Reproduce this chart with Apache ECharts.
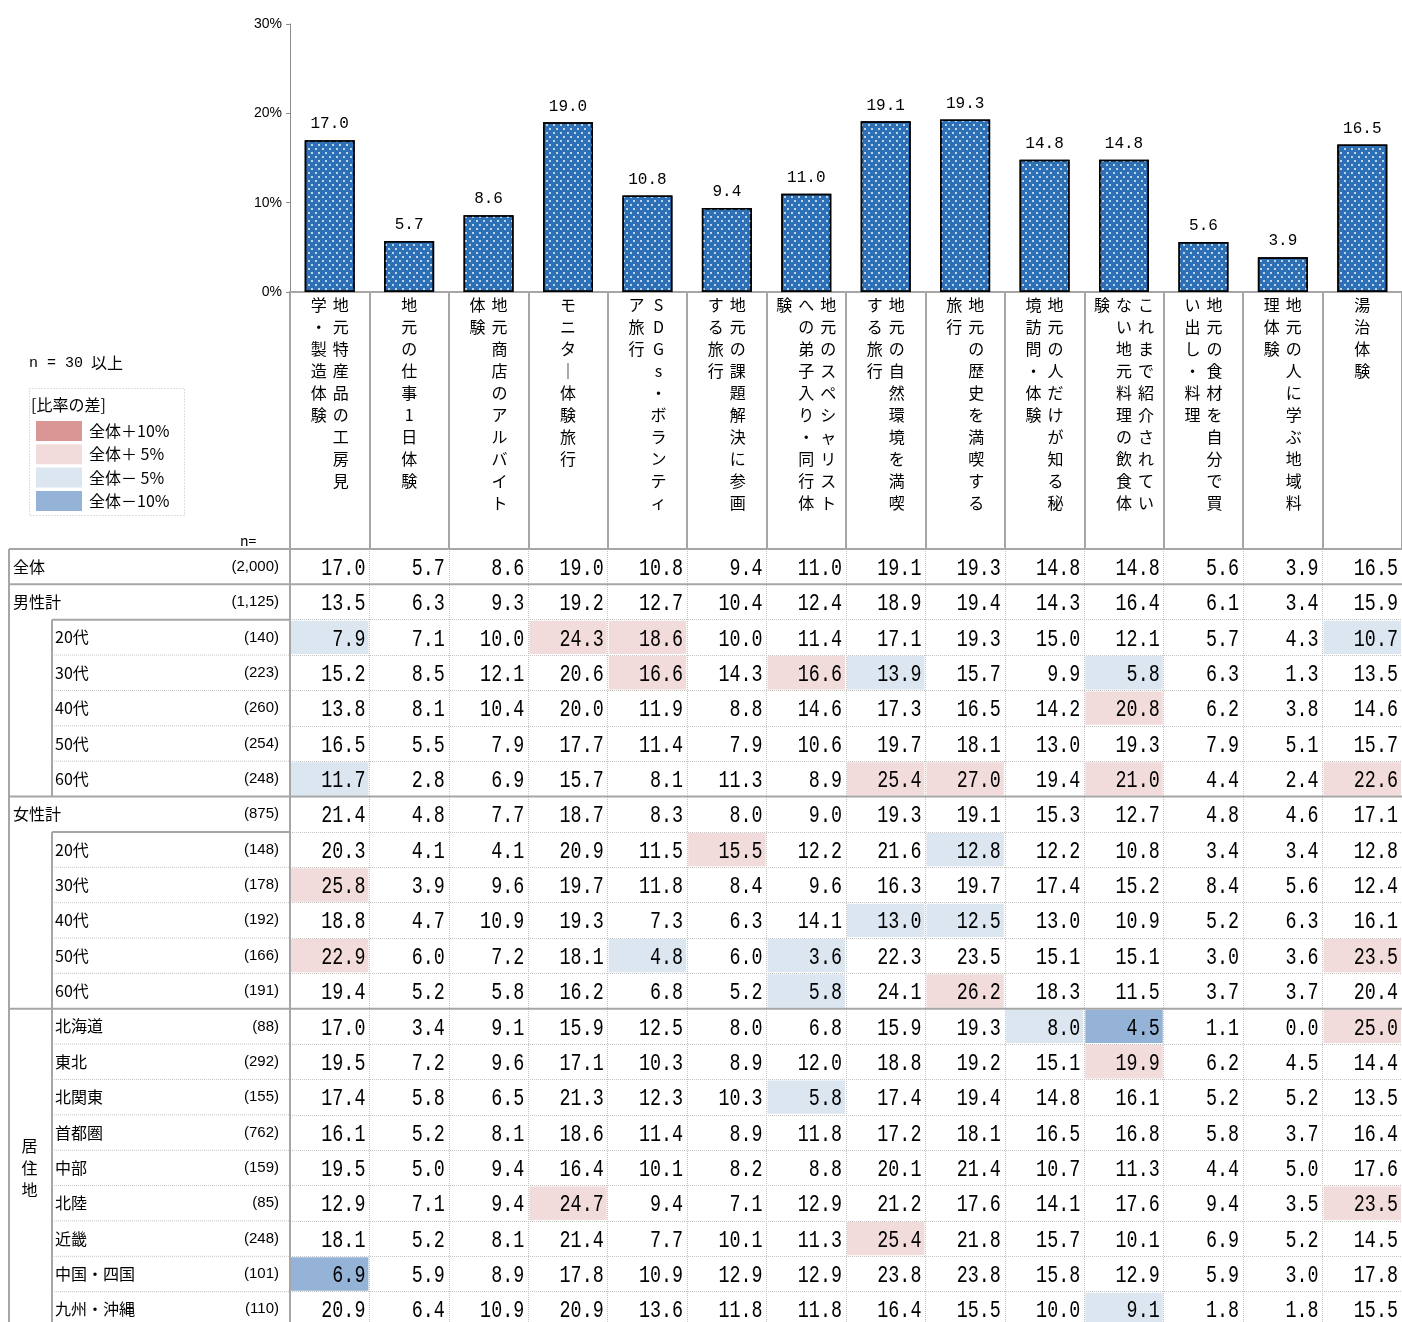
<!DOCTYPE html>
<html>
<head>
<meta charset="utf-8">
<title>体験型旅行の意向</title>
<script src="https://cdn.jsdelivr.net/npm/echarts@6/dist/echarts.min.js"></script>
<style>
  html, body { margin: 0; padding: 0; background: #fff; }
  #main { width: 1402px; height: 1322px; }
</style>
</head>
<body>
<div id="main"></div>
<script>
// ---- data ----------------------------------------------------------------
const categories = [
  '地元特産品の工房見学・製造体験',
  '地元の仕事1日体験',
  '地元商店のアルバイト体験',
  'モニター体験旅行',
  'SDGs・ボランティア旅行',
  '地元の課題解決に参画する旅行',
  '地元のスペシャリストへの弟子入り・同行体験',
  '地元の自然環境を満喫する旅行',
  '地元の歴史を満喫する旅行',
  '地元の人だけが知る秘境訪問・体験',
  'これまで紹介されていない地元料理の飲食体験',
  '地元の食材を自分で買い出し・料理',
  '地元の人に学ぶ地域料理体験',
  '湯治体験'
];

const yTickValues = [0, 10, 20, 30];

// 全体
const totalValues = [17.0, 5.7, 8.6, 19.0, 10.8, 9.4, 11.0, 19.1, 19.3, 14.8, 14.8, 5.6, 3.9, 16.5];

// 男性計, 20代, 30代, 40代, 50代, 60代
const maleValues = [
  [13.5, 6.3, 9.3, 19.2, 12.7, 10.4, 12.4, 18.9, 19.4, 14.3, 16.4, 6.1, 3.4, 15.9],
  [7.9, 7.1, 10.0, 24.3, 18.6, 10.0, 11.4, 17.1, 19.3, 15.0, 12.1, 5.7, 4.3, 10.7],
  [15.2, 8.5, 12.1, 20.6, 16.6, 14.3, 16.6, 13.9, 15.7, 9.9, 5.8, 6.3, 1.3, 13.5],
  [13.8, 8.1, 10.4, 20.0, 11.9, 8.8, 14.6, 17.3, 16.5, 14.2, 20.8, 6.2, 3.8, 14.6],
  [16.5, 5.5, 7.9, 17.7, 11.4, 7.9, 10.6, 19.7, 18.1, 13.0, 19.3, 7.9, 5.1, 15.7],
  [11.7, 2.8, 6.9, 15.7, 8.1, 11.3, 8.9, 25.4, 27.0, 19.4, 21.0, 4.4, 2.4, 22.6]
];

// 女性計, 20代, 30代, 40代, 50代, 60代
const femaleValues = [
  [21.4, 4.8, 7.7, 18.7, 8.3, 8.0, 9.0, 19.3, 19.1, 15.3, 12.7, 4.8, 4.6, 17.1],
  [20.3, 4.1, 4.1, 20.9, 11.5, 15.5, 12.2, 21.6, 12.8, 12.2, 10.8, 3.4, 3.4, 12.8],
  [25.8, 3.9, 9.6, 19.7, 11.8, 8.4, 9.6, 16.3, 19.7, 17.4, 15.2, 8.4, 5.6, 12.4],
  [18.8, 4.7, 10.9, 19.3, 7.3, 6.3, 14.1, 13.0, 12.5, 13.0, 10.9, 5.2, 6.3, 16.1],
  [22.9, 6.0, 7.2, 18.1, 4.8, 6.0, 3.6, 22.3, 23.5, 15.1, 15.1, 3.0, 3.6, 23.5],
  [19.4, 5.2, 5.8, 16.2, 6.8, 5.2, 5.8, 24.1, 26.2, 18.3, 11.5, 3.7, 3.7, 20.4]
];

// 居住地
const regionValues = [
  [17.0, 3.4, 9.1, 15.9, 12.5, 8.0, 6.8, 15.9, 19.3, 8.0, 4.5, 1.1, 0.0, 25.0],
  [19.5, 7.2, 9.6, 17.1, 10.3, 8.9, 12.0, 18.8, 19.2, 15.1, 19.9, 6.2, 4.5, 14.4],
  [17.4, 5.8, 6.5, 21.3, 12.3, 10.3, 5.8, 17.4, 19.4, 14.8, 16.1, 5.2, 5.2, 13.5],
  [16.1, 5.2, 8.1, 18.6, 11.4, 8.9, 11.8, 17.2, 18.1, 16.5, 16.8, 5.8, 3.7, 16.4],
  [19.5, 5.0, 9.4, 16.4, 10.1, 8.2, 8.8, 20.1, 21.4, 10.7, 11.3, 4.4, 5.0, 17.6],
  [12.9, 7.1, 9.4, 24.7, 9.4, 7.1, 12.9, 21.2, 17.6, 14.1, 17.6, 9.4, 3.5, 23.5],
  [18.1, 5.2, 8.1, 21.4, 7.7, 10.1, 11.3, 25.4, 21.8, 15.7, 10.1, 6.9, 5.2, 14.5],
  [6.9, 5.9, 8.9, 17.8, 10.9, 12.9, 12.9, 23.8, 23.8, 15.8, 12.9, 5.9, 3.0, 17.8],
  [20.9, 6.4, 10.9, 20.9, 13.6, 11.8, 11.8, 16.4, 15.5, 10.0, 9.1, 1.8, 1.8, 15.5]
];

const rowNames = [
  '全体',
  '男性計', '20代', '30代', '40代', '50代', '60代',
  '女性計', '20代', '30代', '40代', '50代', '60代',
  '北海道', '東北', '北関東', '首都圏', '中部', '北陸', '近畿', '中国・四国', '九州・沖縄'
];
const rowSizes = [
  '(2,000)',
  '(1,125)', '(140)', '(223)', '(260)', '(254)', '(248)',
  '(875)', '(148)', '(178)', '(192)', '(166)', '(191)',
  '(88)', '(292)', '(155)', '(762)', '(159)', '(85)', '(248)', '(101)', '(110)'
];
// 0 = top-level row, 1 = nested row
const rowDepth = [0, 0, 1, 1, 1, 1, 1, 0, 1, 1, 1, 1, 1, 1, 1, 1, 1, 1, 1, 1, 1, 1];
const regionLabel = '居住地';
const regionFirstRow = rowNames.indexOf('北海道');

const diffLegend = [
  { cls: 2, label: '全体＋10%' },
  { cls: 1, label: '全体＋ 5%' },
  { cls: -1, label: '全体－ 5%' },
  { cls: -2, label: '全体－10%' }
];

// ---- styling ---------------------------------------------------------------
const JP = "'Noto Sans CJK JP', 'Noto Sans', sans-serif";
const MONO = "'Liberation Mono', 'DejaVu Sans Mono', monospace";
const GRID_GREY = '#a6a6a6';
const DOT_GREY = '#c4c4c4';
const BAR_BLUE = '#2d70b5';
const DIFF_COLORS = { '2': '#DA9694', '1': '#F2DCDB', '-1': '#DCE6F1', '-2': '#95B3D7' };

const tableValues = [totalValues].concat(maleValues, femaleValues, regionValues);

// class of each cell: difference from 全体 (n ≥ 30)
function diffClass(v, base) {
  const d = Math.round((v - base) * 10) / 10;
  if (d >= 10) return 2;
  if (d > 5) return 1;
  if (d <= -10) return -2;
  if (d < -5) return -1;
  return 0;
}
const cellData = [];
tableValues.forEach((row, r) => {
  row.forEach((v, c) => cellData.push([c, r, v, diffClass(v, totalValues[c])]));
});

// vertical (tategaki) header labels: columns of up to 10 characters,
// read right to left; "・" never starts a column
const COL_MAX = 10;
const NO_LINE_START = '・、。）」';
function verticalColumns(text) {
  const chars = Array.from(text);
  const cols = [];
  let i = 0;
  while (i < chars.length) {
    let end = Math.min(i + COL_MAX, chars.length);
    if (end < chars.length && NO_LINE_START.includes(chars[end])) end -= 1;
    cols.push(chars.slice(i, end));
    i = end;
  }
  return cols;
}
const uprightChar = ch => (ch === 'ー' ? '｜' : ch);
function verticalLabel(text) {
  const cols = verticalColumns(text).reverse();
  const rows = Math.max.apply(null, cols.map(c => c.length));
  const lines = [];
  for (let r = 0; r < rows; r++) {
    lines.push(cols.map(c => '{v|' + uprightChar(c[r] || '　') + '}').join(''));
  }
  return lines.join('\n');
}

// ---- chart -----------------------------------------------------------------
const chart = echarts.init(document.getElementById('main'), null, { renderer: 'canvas' });

const option = {
  animation: false,
  backgroundColor: '#fff',
  grid: [
    { left: 290, width: 1112, top: 24, height: 268, outerBoundsMode: 'none' },   // bars
    { left: 290, width: 1112, top: 549, height: 778, outerBoundsMode: 'none' },  // table body
    { left: 290, width: 1112, top: 292, height: 257, outerBoundsMode: 'none' }   // header cells
  ],
  xAxis: [
    {
      type: 'category', gridIndex: 0, data: categories,
      axisLine: { show: true, lineStyle: { color: GRID_GREY, width: 2 } },
      axisTick: { show: false },
      splitLine: { show: false },
      axisLabel: {
        interval: 0, margin: 2, hideOverlap: false,
        formatter: v => verticalLabel(v),
        rich: {
          v: { width: 22, lineHeight: 22, align: 'center', fontSize: 16, fontFamily: JP, color: '#000' }
        }
      }
    },
    {
      type: 'category', gridIndex: 1, data: categories,
      axisLine: { show: false }, axisTick: { show: false }, axisLabel: { show: false },
      splitLine: { show: true, interval: 0, lineStyle: { color: DOT_GREY, width: 1, type: 'dotted' } }
    },
    {
      type: 'category', gridIndex: 2, data: categories,
      axisLine: { show: false }, axisTick: { show: false }, axisLabel: { show: false },
      splitLine: { show: true, interval: 0, lineStyle: { color: GRID_GREY, width: 2 } }
    }
  ],
  yAxis: [
    {
      type: 'value', gridIndex: 0,
      min: yTickValues[0], max: yTickValues[yTickValues.length - 1], interval: 10,
      axisLine: { show: true, lineStyle: { color: '#8c8c8c', width: 1 } },
      axisTick: { show: true, length: 4, lineStyle: { color: '#8c8c8c' } },
      splitLine: { show: false },
      axisLabel: {
        margin: 8, formatter: '{value}%', color: '#000', fontSize: 14,
        fontFamily: "'Liberation Sans Narrow', 'Liberation Sans', sans-serif"
      }
    },
    {
      type: 'category', gridIndex: 1, data: rowNames, inverse: true,
      axisLine: { show: true, lineStyle: { color: GRID_GREY, width: 2 } },
      axisTick: { show: false },
      splitLine: { show: true, interval: 0, lineStyle: { color: DOT_GREY, width: 1, type: 'dotted' } },
      axisLabel: {
        interval: 0, margin: 11, hideOverlap: false,
        formatter: (v, i) => '{' + (rowDepth[i] === 0 ? 'a' : 'b') + '|' + v + '}{n|' + rowSizes[i] + '}',
        rich: {
          a: { width: 206, align: 'left', fontSize: 16, fontFamily: JP, color: '#000' },
          b: { width: 164, align: 'left', fontSize: 16, fontFamily: JP, color: '#000' },
          n: { width: 60, align: 'right', fontSize: 15, fontFamily: "'Liberation Sans', sans-serif", color: '#000' }
        }
      }
    },
    {
      type: 'value', gridIndex: 2, min: 0, max: 1,
      axisLine: { show: true, lineStyle: { color: GRID_GREY, width: 2 } },
      axisTick: { show: false }, axisLabel: { show: false }, splitLine: { show: false }
    }
  ],
  series: [
    {
      type: 'bar', xAxisIndex: 0, yAxisIndex: 0,
      data: totalValues,
      barWidth: 50,
      itemStyle: {
        color: BAR_BLUE, borderColor: '#000', borderWidth: 1.5,
        decal: {
          symbol: 'rect', symbolSize: 1, color: 'rgba(255,255,255,0.7)',
          dashArrayX: [[1.5, 4.5], [0, 3, 1.5, 1.5]], dashArrayY: [1.5, 1.5]
        }
      },
      label: {
        show: true, position: 'top', distance: 8,
        formatter: p => p.value.toFixed(1),
        fontFamily: MONO, fontSize: 16, color: '#000'
      },
      silent: true
    },
    {
      type: 'custom', xAxisIndex: 1, yAxisIndex: 1,
      data: cellData,
      encode: { x: 0, y: 1 },
      silent: true,
      renderItem: function (params, api) {
        const c = api.coord([api.value(0), api.value(1)]);
        const sz = api.size([1, 1]);
        const x0 = c[0] - sz[0] / 2;
        const y0 = c[1] - sz[1] / 2;
        const cls = api.value(3);
        const children = [];
        if (cls !== 0) {
          children.push({
            type: 'rect',
            shape: { x: x0 + 1, y: y0 + 1, width: sz[0] - 2, height: sz[1] - 2 },
            style: { fill: DIFF_COLORS[String(cls)] }
          });
        }
        children.push({
          type: 'text',
          x: x0 + sz[0] - 4, y: c[1] + 2, scaleX: 0.8,
          style: {
            text: api.value(2).toFixed(1),
            align: 'right', verticalAlign: 'middle',
            fontFamily: MONO, fontSize: 23, fill: '#000'
          }
        });
        return { type: 'group', children: children };
      }
    }
  ]
};

chart.setOption(option);

// ---- table rules and side annotations --------------------------------------
const rowCenter = i => chart.convertToPixel({ gridIndex: 1 }, [0, i])[1];
const colCenter = j => chart.convertToPixel({ gridIndex: 1 }, [j, 0])[0];
const rowBand = rowCenter(1) - rowCenter(0);
const colBand = colCenter(1) - colCenter(0);
const rowTop = i => rowCenter(0) - rowBand / 2 + i * rowBand;
const dataLeft = colCenter(0) - colBand / 2;
const dataRight = colCenter(categories.length - 1) + colBand / 2;
const OUTER_X = 9;
const INNER_X = 52;

const solid = { stroke: GRID_GREY, lineWidth: 2 };
const dotted = { stroke: DOT_GREY, lineWidth: 1, lineDash: [1, 1] };
const line = (x1, y1, x2, y2, style) => ({
  type: 'line', z: 100, silent: true,
  shape: { x1: x1, y1: y1, x2: x2, y2: y2 }, style: style
});

const graphics = [];
const nRows = rowNames.length;
for (let i = 0; i < nRows; i++) {
  const y = rowTop(i);
  if (i === 0 || rowDepth[i] === 0 || i === regionFirstRow) {
    graphics.push(line(OUTER_X, y, dataRight, y, solid));
  } else if (rowDepth[i - 1] === 0) {
    graphics.push(line(INNER_X, y, dataLeft, y, solid));
  } else {
    graphics.push(line(INNER_X, y, dataLeft, y, dotted));
  }
}
graphics.push(line(OUTER_X, rowTop(0), OUTER_X, rowTop(nRows), solid));
// nested blocks: runs of depth-1 rows, split where the region block starts
let blockStart = -1;
for (let i = 0; i <= nRows; i++) {
  const nested = i < nRows && rowDepth[i] === 1;
  if (nested && blockStart >= 0 && i === regionFirstRow) {
    graphics.push(line(INNER_X, rowTop(blockStart), INNER_X, rowTop(i), solid));
    blockStart = i;
  } else if (nested && blockStart < 0) {
    blockStart = i;
  } else if (!nested && blockStart >= 0) {
    graphics.push(line(INNER_X, rowTop(blockStart), INNER_X, rowTop(i), solid));
    blockStart = -1;
  }
}

// group caption in the left column
graphics.push({
  type: 'text', z: 100, silent: true,
  x: (OUTER_X + INNER_X) / 2 - 1,
  y: (rowTop(regionFirstRow) + rowTop(nRows - 1) + rowBand) / 2,
  style: {
    text: Array.from(regionLabel).join('\n'), lineHeight: 22,
    align: 'center', verticalAlign: 'middle',
    fontFamily: JP, fontSize: 16, fill: '#000'
  }
});

// sample-size note, colour key and n= caption
graphics.push({
  type: 'text', z: 100, silent: true, x: 29, y: 363,
  style: {
    text: '{m|n = 30}{j|以上}', verticalAlign: 'middle',
    rich: {
      m: { fontFamily: MONO, fontSize: 15, fill: '#000' },
      j: { fontFamily: JP, fontSize: 16, fill: '#000', padding: [0, 0, 0, 8] }
    }
  }
});
graphics.push({
  type: 'rect', z: 100, silent: true,
  shape: { x: 29.5, y: 388.5, width: 155, height: 127 },
  style: { fill: 'none', stroke: '#bdbdbd', lineWidth: 1, lineDash: [1, 2] }
});
graphics.push({
  type: 'text', z: 100, silent: true, x: 31, y: 405,
  style: { text: '[比率の差]', verticalAlign: 'middle', fontFamily: JP, fontSize: 16, fill: '#000' }
});
diffLegend.forEach((item, k) => {
  const top = 421 + k * 23.3;
  graphics.push({
    type: 'rect', z: 100, silent: true,
    shape: { x: 36, y: top, width: 46, height: 20 },
    style: { fill: DIFF_COLORS[String(item.cls)] }
  });
  graphics.push({
    type: 'text', z: 100, silent: true, x: 89, y: top + 10,
    style: { text: item.label, verticalAlign: 'middle', fontFamily: JP, fontSize: 16, fill: '#000' }
  });
});
graphics.push({
  type: 'text', z: 100, silent: true, x: 240, y: 541,
  style: { text: 'n=', verticalAlign: 'middle', fontFamily: JP, fontSize: 14, fill: '#000' }
});

chart.setOption({ graphic: graphics });
</script>
</body>
</html>
